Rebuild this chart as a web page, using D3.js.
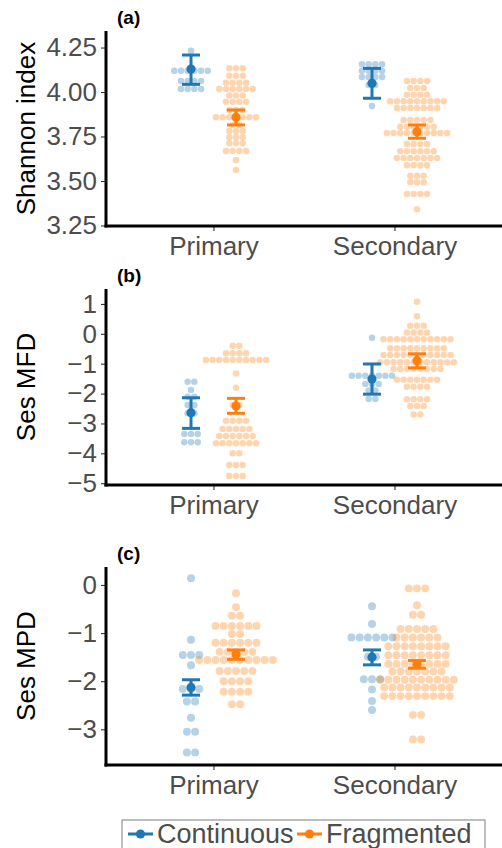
<!DOCTYPE html>
<html>
<head>
<meta charset="utf-8">
<script src="https://cdn.jsdelivr.net/npm/d3@7"></script>
<style>
	body { margin: 0; background: #fff; }
	svg { display: block; font-family: "Liberation Sans", Arial, sans-serif; }
</style>
</head>
<body>
<div id="graphicContainer"></div>
<script>

var habitats = ["Primary", "Secondary"]
var groups = ["Continuous", "Fragmented"]
var colors = ["#1f77b4", "#ff7f0e"]

// each dot row: [binned value, number of sites in the row]
var shannonPriCont = [[4.232,1],[4.120,6],[4.062,4],[4.017,4]]
var shannonPriFrag = [[4.133,3],[4.092,3],[4.052,4],[4.017,6],[3.981,3],[3.946,4],[3.899,3],[3.858,7],[3.815,2],[3.781,3],[3.746,3],[3.712,3],[3.669,4],[3.618,1],[3.562,1]]
var shannonSecCont = [[4.156,4],[4.120,4],[4.084,4],[4.039,2],[3.921,1]]
var shannonSecFrag = [[4.062,4],[4.022,3],[3.985,4],[3.948,9],[3.910,7],[3.843,5],[3.805,6],[3.770,10],[3.708,4],[3.667,6],[3.629,7],[3.588,4],[3.530,3],[3.493,3],[3.427,4],[3.341,1]]
// order: primary cont, primary frag, secondary cont, secondary frag
var shannonMean = [4.129, 3.858, 4.049, 3.777]
var shannonLow  = [4.043, 3.815, 3.965, 3.740]
var shannonHigh = [4.208, 3.899, 4.133, 3.815]
var shannonTicks = [3.25, 3.5, 3.75, 4, 4.25]

var mfdPriCont = [[-1.605,2],[-1.883,1],[-2.107,2],[-2.385,2],[-2.662,2],[-3.355,3],[-3.632,3]]
var mfdPriFrag = [[-0.40,2],[-0.65,4],[-0.88,10],[-1.325,1],[-1.806,1],[-2.385,2],[-2.91,4],[-3.187,5],[-3.42,6],[-3.666,7],[-4.0,2],[-4.39,3],[-4.76,3]]
var mfdSecCont = [[-0.13,1],[-1.40,7],[-1.68,3],[-1.90,2],[-2.18,2]]
var mfdSecFrag = [[1.07,1],[0.59,1],[0.27,3],[0.045,4],[-0.18,11],[-0.48,9],[-0.71,11],[-0.95,12],[-1.18,8],[-1.54,7],[-1.77,4],[-2.19,4],[-2.42,3],[-2.70,2]]
var mfdMean = [-2.64, -2.42, -1.515, -0.90]
var mfdLow  = [-3.165, -2.66, -2.02, -1.14]
var mfdHigh = [-2.14, -2.16, -1.01, -0.67]
var mfdTicks = [1, 0, -1, -2, -3, -4, -5]

var mpdPriCont = [[0.14,1],[-1.14,1],[-1.455,3],[-1.67,1],[-2.16,3],[-2.42,2],[-2.76,1],[-3.05,2],[-3.48,2]]
var mpdPriFrag = [[-0.173,1],[-0.46,1],[-0.64,2],[-0.85,6],[-1.02,2],[-1.20,6],[-1.39,5],[-1.56,10],[-1.79,5],[-2.0,4],[-2.22,4],[-2.48,2]]
var mpdSecCont = [[-0.44,1],[-0.81,1],[-1.09,6],[-1.49,2],[-1.96,3],[-2.17,1],[-2.41,1],[-2.60,1]]
var mpdSecFrag = [[-0.07,3],[-0.42,1],[-0.62,2],[-0.915,5],[-1.09,6],[-1.275,8],[-1.46,8],[-1.64,8],[-1.80,7],[-1.97,10],[-2.13,9],[-2.31,9],[-2.70,2],[-3.21,2]]
var mpdMean = [-2.13, -1.44, -1.50, -1.65]
var mpdLow  = [-2.29, -1.545, -1.66, -1.73]
var mpdHigh = [-1.97, -1.35, -1.35, -1.57]
var mpdTicks = [0, -1, -2, -3]

var width = 502, height = 848
var left = 106, right = 502

var panels = [
	{tag: "(a)", title: "Shannon index", top: 31, bottom: 226, domain: [3.247, 4.343], ticks: shannonTicks, fmt: d3.format(".2f"), step: 6.7,
		rows: [shannonPriCont, shannonPriFrag, shannonSecCont, shannonSecFrag], mean: shannonMean, low: shannonLow, high: shannonHigh},
	{tag: "(b)", title: "Ses MFD", top: 289, bottom: 485, domain: [-5.06, 1.50], ticks: mfdTicks, fmt: d3.format("d"), step: 6.7,
		rows: [mfdPriCont, mfdPriFrag, mfdSecCont, mfdSecFrag], mean: mfdMean, low: mfdLow, high: mfdHigh},
	{tag: "(c)", title: "Ses MPD", top: 567, bottom: 765, domain: [-3.742, 0.374], ticks: mpdTicks, fmt: d3.format("d"), step: 8.2,
		rows: [mpdPriCont, mpdPriFrag, mpdSecCont, mpdSecFrag], mean: mpdMean, low: mpdLow, high: mpdHigh}
]

var svg = d3.select("#graphicContainer").append("svg")
	.attr("width", width)
	.attr("height", height)

var x = d3.scalePoint()
	.domain(habitats)
	.range([left, right])
	.padding(0.594)

var dodge = d3.scalePoint()
	.domain(groups)
	.range([-22.5, 22.5])

panels.forEach(p => {

	var g = svg.append("g")

	var y = d3.scaleLinear()
		.domain(p.domain)
		.range([p.bottom, p.top])

	// dots
	p.rows.forEach((rows, i) => {
		var hab = habitats[Math.floor(i / 2)]
		var grp = groups[i % 2]
		var cx = x(hab) + dodge(grp)
		var dots = []
		rows.forEach(r => {
			for (var k = 0; k < r[1]; k++) {
				dots.push({v: r[0], off: (k - (r[1] - 1) / 2) * p.step})
			}
		})
		g.append("g").selectAll("circle")
			.data(dots)
			.join("circle")
			.attr("cx", d => cx + d.off)
			.attr("cy", d => y(d.v))
			.attr("r", p.step / 2 * 0.97)
			.attr("fill", colors[i % 2])
			.attr("fill-opacity", 0.33)
	})

	// mean and error bars
	p.mean.forEach((m, i) => {
		var hab = habitats[Math.floor(i / 2)]
		var grp = groups[i % 2]
		var cx = x(hab) + dodge(grp)
		var col = colors[i % 2]
		var eb = g.append("g")
			.attr("stroke", col)
			.attr("stroke-width", 3)
		eb.append("line")
			.attr("x1", cx).attr("x2", cx)
			.attr("y1", y(p.low[i])).attr("y2", y(p.high[i]))
		eb.append("line")
			.attr("x1", cx - 9).attr("x2", cx + 9)
			.attr("y1", y(p.low[i])).attr("y2", y(p.low[i]))
		eb.append("line")
			.attr("x1", cx - 9).attr("x2", cx + 9)
			.attr("y1", y(p.high[i])).attr("y2", y(p.high[i]))
		g.append("circle")
			.attr("cx", cx)
			.attr("cy", y(m))
			.attr("r", 4.6)
			.attr("fill", col)
	})

	// y axis
	var yAxis = g.append("g")
		.attr("transform", `translate(${left},0)`)
		.call(d3.axisLeft(y).tickValues(p.ticks).tickFormat(p.fmt).tickSize(5).tickPadding(4))
	yAxis.select(".domain").remove()
	yAxis.selectAll(".tick line").attr("stroke", "#333").attr("stroke-width", 1.1)
	yAxis.selectAll(".tick text")
		.attr("font-size", 26)
		.attr("font-family", "Liberation Sans, Arial, sans-serif")
		.attr("fill", "#4d4d4d")

	// x axis
	var xAxis = g.append("g")
		.attr("transform", `translate(0,${p.bottom})`)
		.call(d3.axisBottom(x).tickSize(5).tickPadding(6))
	xAxis.select(".domain").remove()
	xAxis.selectAll(".tick line").attr("stroke", "#333").attr("stroke-width", 1.1)
	xAxis.selectAll(".tick text")
		.attr("font-size", 26)
		.attr("font-family", "Liberation Sans, Arial, sans-serif")
		.attr("fill", "#4d4d4d")

	// axis lines
	g.append("line")
		.attr("x1", left).attr("x2", left)
		.attr("y1", p.top).attr("y2", p.bottom + 1.5)
		.attr("stroke", "#000").attr("stroke-width", 3)
	g.append("line")
		.attr("x1", left - 1.5).attr("x2", right)
		.attr("y1", p.bottom).attr("y2", p.bottom)
		.attr("stroke", "#000").attr("stroke-width", 3)

	// titles
	g.append("text")
		.attr("transform", `translate(35,${(p.top + p.bottom) / 2}) rotate(-90)`)
		.attr("text-anchor", "middle")
		.attr("font-size", 26)
		.attr("fill", "#000")
		.text(p.title)

	g.append("text")
		.attr("x", 117)
		.attr("y", p.top - 7)
		.attr("font-size", 19)
		.attr("font-weight", "bold")
		.text(p.tag)
})

// legend
var legend = svg.append("g")
legend.append("rect")
	.attr("x", 122).attr("y", 820)
	.attr("width", 363).attr("height", 40)
	.attr("fill", "#fff")
	.attr("stroke", "#7f7f7f")
	.attr("stroke-width", 1)

var legendX = [128, 297]
groups.forEach((grp, i) => {
	var lx = legendX[i]
	legend.append("line")
		.attr("x1", lx).attr("x2", lx + 25)
		.attr("y1", 834).attr("y2", 834)
		.attr("stroke", colors[i]).attr("stroke-width", 3)
	legend.append("circle")
		.attr("cx", lx + 12.5).attr("cy", 834).attr("r", 4.6)
		.attr("fill", colors[i])
	legend.append("text")
		.attr("x", lx + 29).attr("y", 843)
		.attr("font-size", 27)
		.attr("fill", "#4d4d4d")
		.text(grp)
})

</script>
</body>
</html>
